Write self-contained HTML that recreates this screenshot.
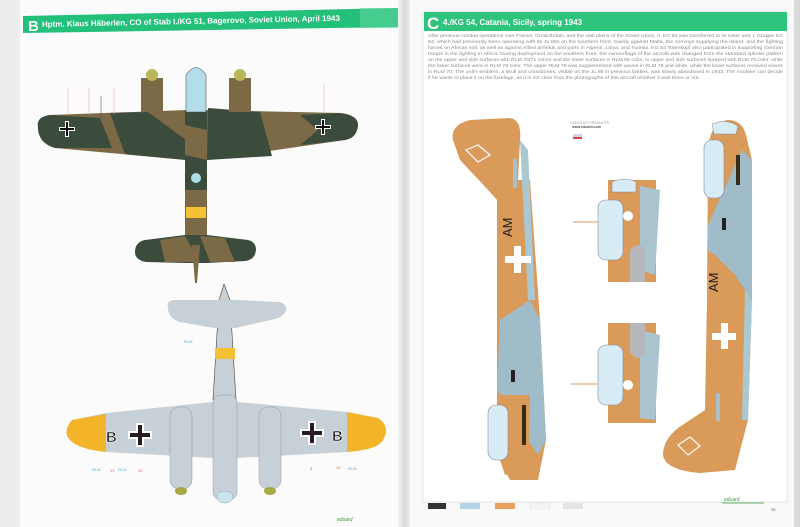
<!DOCTYPE html>
<html><head><meta charset="utf-8"><style>
html,body{margin:0;padding:0;width:800px;height:527px;overflow:hidden;background:#e9eaea}
svg{display:block}
text{font-family:"Liberation Sans",sans-serif}
</style></head><body>
<svg width="800" height="527" viewBox="0 0 800 527" xmlns="http://www.w3.org/2000/svg">
<defs>
<linearGradient id="gut" x1="0" x2="1"><stop offset="0" stop-color="#f3f3f3"/><stop offset="0.5" stop-color="#d9d9d9"/><stop offset="1" stop-color="#f5f5f5"/></linearGradient>
</defs>
<rect x="0" y="0" width="800" height="527" fill="#ededed"/>
<rect x="20" y="0" width="382" height="527" fill="#fbfbfb"/>
<rect x="398" y="0" width="14" height="527" fill="url(#gut)"/>
<rect x="410" y="0" width="384" height="527" fill="#f9f9f9"/>
<rect x="423" y="12" width="364" height="490" fill="#ffffff" stroke="#e0e6e6" stroke-width="1"/>
<rect x="794" y="0" width="6" height="527" fill="#d9dada"/>

<polygon points="23,16 398,8 398,27 23,33" fill="#23c07c"/>
<rect x="360" y="8" width="38" height="20" fill="#5fd39c" opacity="0.6"/>
<text x="28" y="31" font-size="15" font-weight="bold" fill="#fff">B</text>
<text x="42" y="27" font-size="8" font-weight="bold" fill="#fff" transform="rotate(-1.2 42 27)">Hptm. Klaus Häberlen, CO of Stab I./KG 51, Bagerovo, Soviet Union, April 1943</text>

<rect x="424" y="12" width="363" height="19" fill="#2ec47e"/>
<text x="427" y="29" font-size="17" font-weight="bold" fill="#fff">C</text>
<text x="443" y="25" font-size="8" font-weight="bold" fill="#fff">4./KG 54, Catania, Sicily, spring 1943</text>
<g font-size="4.6" fill="#8a8a8a">
<text x="428" y="37" textLength="355" lengthAdjust="spacingAndGlyphs">After previous combat operations over France, Great Britain, and the vast plains of the Soviet Union, II. KG 54 was transferred to its sister unit, I. Gruppe KG</text>
<text x="428" y="43" textLength="355" lengthAdjust="spacingAndGlyphs">54, which had previously been operating with its Ju 88s on the southern front, mainly against Malta, the convoys supplying the island, and the fighting</text>
<text x="428" y="49" textLength="355" lengthAdjust="spacingAndGlyphs">forces on African soil, as well as against Allied airfields and ports in Algeria, Libya, and Tunisia. KG 54 Totenkopf also participated in supporting German</text>
<text x="428" y="55" textLength="355" lengthAdjust="spacingAndGlyphs">troops in the fighting in Africa. During deployment on the southern front, the camouflage of the aircraft was changed from the standard splinter pattern</text>
<text x="428" y="61" textLength="355" lengthAdjust="spacingAndGlyphs">on the upper and side surfaces with RLM 70/71 colors and the lower surfaces in RLM 65 color, to upper and side surfaces sprayed with RLM 79 color, while</text>
<text x="428" y="67" textLength="355" lengthAdjust="spacingAndGlyphs">the lower surfaces were in RLM 78 color. The upper RLM 79 was supplemented with waves in RLM 78 and white, while the lower surfaces received waves</text>
<text x="428" y="73" textLength="355" lengthAdjust="spacingAndGlyphs">in RLM 70. The unit's emblem, a skull and crossbones, visible on the Ju 88 in previous battles, was slowly abandoned in 1943. The modeler can decide</text>
<text x="428" y="79" textLength="272" lengthAdjust="spacingAndGlyphs">if he wants to place it on the fuselage, as it is not clear from the photographs of this aircraft whether it was there or not.</text>
</g>

<g>
<path d="M38,127 Q36,117 50,115 L188,110 L204,110 L340,113 Q358,115 358,125 Q357,138 345,140 L207,160 L186,160 L55,148 Q38,143 38,127 Z" fill="#7b6a45"/>
<path d="M38,127 Q36,117 50,115 L100,118 L112,148 L55,148 Q38,143 38,127Z" fill="#3b4b3c"/>
<path d="M110,113 L148,112 L186,140 L186,160 L125,154 Z" fill="#3b4b3c"/>
<path d="M208,108 L260,112 L272,156 L207,160 Z" fill="#3b4b3c"/>
<path d="M300,115 L340,113 Q358,115 358,125 Q357,138 345,140 L300,145 L318,130 Z" fill="#3b4b3c"/>
<rect x="185" y="110" width="22" height="135" fill="#3b4b3c"/>
<polygon points="185,125 207,130 207,160 185,155" fill="#7b6a45"/>
<rect x="185" y="190" width="22" height="50" fill="#7b6a45"/>
<rect x="186" y="207" width="20" height="11" fill="#f3c132"/>
<circle cx="196" cy="178" r="5" fill="#aee0ea"/>
<rect x="141" y="78" width="22" height="34" fill="#7b6a45"/>
<rect x="229" y="78" width="22" height="34" fill="#7b6a45"/>
<ellipse cx="152" cy="75" rx="6" ry="6" fill="#b8b658"/>
<ellipse cx="240" cy="75" rx="6" ry="6" fill="#b8b658"/>
<path d="M186,112 L186,75 Q196,60 206,75 L206,112 Z" fill="#b3dde8" stroke="#556" stroke-width="0.6"/>
<path d="M135,252 Q135,242 145,240 L185,235 L207,235 L248,240 Q256,242 256,250 Q255,260 245,261 L207,263 L186,263 L146,262 Q135,260 135,252Z" fill="#3b4b3c"/>
<polygon points="160,240 185,236 200,262 165,262" fill="#7b6a45"/>
<polygon points="200,236 225,238 235,262 210,262" fill="#7b6a45"/>
<polygon points="192,245 200,245 197,283 195,283" fill="#7b6a45"/>
<g fill="#fff"><rect x="59" y="127" width="16" height="4"/><rect x="65" y="121" width="4" height="16"/><rect x="315" y="125" width="16" height="4"/><rect x="321" y="119" width="4" height="16"/></g>
<g fill="#111"><rect x="60" y="128" width="14" height="2"/><rect x="66" y="122" width="2" height="14"/><rect x="316" y="126" width="14" height="2"/><rect x="322" y="120" width="2" height="14"/></g>
<g stroke="#e8a0a0" stroke-width="0.5"><line x1="68" y1="88" x2="68" y2="115"/><line x1="324" y1="85" x2="324" y2="112"/><line x1="89" y1="88" x2="89" y2="115"/><line x1="114" y1="88" x2="114" y2="115"/></g>
<line x1="101" y1="96" x2="101" y2="115" stroke="#555" stroke-width="0.6"/>
</g>

<g>
<path d="M224,284 L230,300 L236,400 L213,400 L219,300 Z" fill="#c6d0d6" stroke="#444" stroke-width="0.6"/>
<path d="M168,308 Q166,300 175,300 L214,300 L236,300 L278,302 Q287,303 286,310 Q284,318 270,320 L236,328 L214,328 L180,322 Q168,318 168,308Z" fill="#c6d0d6"/>
<rect x="215" y="348" width="20" height="11" fill="#f3c132"/>
<path d="M70,440 Q62,432 72,420 L106,413 L213,402 L237,402 L347,412 L378,418 Q390,426 384,438 Q380,450 347,452 L237,458 L213,458 L106,452 Q78,449 70,440Z" fill="#c6d0d6"/>
<path d="M70,440 Q62,432 72,420 L106,414 L106,452 Q78,449 70,440Z" fill="#f4b42a"/>
<path d="M347,412 L378,418 Q390,426 384,438 Q380,450 347,452 Z" fill="#f4b42a"/>
<rect x="213" y="395" width="24" height="105" rx="8" fill="#c6d0d6" stroke="#889" stroke-width="0.4"/>
<rect x="170" y="407" width="22" height="82" rx="9" fill="#c6d0d6" stroke="#889" stroke-width="0.4"/>
<rect x="259" y="407" width="22" height="82" rx="9" fill="#c6d0d6" stroke="#889" stroke-width="0.4"/>
<ellipse cx="181" cy="491" rx="6" ry="4" fill="#a8a845"/>
<ellipse cx="270" cy="491" rx="6" ry="4" fill="#a8a845"/>
<ellipse cx="225" cy="497" rx="8" ry="6" fill="#cce4ee" stroke="#7ab" stroke-width="0.5"/>
<g fill="#fff"><rect x="128" y="431" width="24" height="8"/><rect x="136" y="423" width="8" height="24"/><rect x="300" y="429" width="24" height="8"/><rect x="308" y="421" width="8" height="24"/></g>
<g fill="#261c22"><rect x="130" y="433" width="20" height="4"/><rect x="138" y="425" width="4" height="20"/><rect x="302" y="431" width="20" height="4"/><rect x="310" y="423" width="4" height="20"/></g>
<text x="106" y="442" font-size="15" font-weight="bold" fill="#111" stroke="#fff" stroke-width="0.6">B</text>
<text x="332" y="441" font-size="15" font-weight="bold" fill="#111" stroke="#fff" stroke-width="0.6">B</text>
<g font-size="4" fill="#e06060"><text x="110" y="472">13</text><text x="138" y="472">10</text><text x="310" y="470">9</text><text x="336" y="469">13</text></g>
<g font-size="4" fill="#5ab0e0"><text x="92" y="471">RLM</text><text x="118" y="471">RLM</text><text x="348" y="470">RLM</text><text x="184" y="343">RLM</text></g>
<text x="337" y="521" font-size="5" fill="#3a9a3a" font-style="italic">eduard</text>
</g>

<g>
<path d="M453,140 Q450,125 470,120 L510,118 Q522,120 520,140 L518,180 L530,180 L540,320 L546,440 L538,480 L510,480 L497,455 L497,200 L490,192 L460,160 Z" fill="#d99a5a"/>
<path d="M520,140 L528,150 L535,300 L528,300 Z" fill="#aac8d2"/>
<path d="M500,320 Q515,310 530,300 L540,320 L546,440 L538,455 L515,420 L497,390 Z" fill="#9fbcc8"/>
<path d="M500,395 L530,395 L528,470 L505,475 L497,450 Z" fill="#d99a5a"/>
<rect x="488" y="405" width="20" height="55" rx="8" fill="#d7ecf4" stroke="#889" stroke-width="0.6"/>
<rect x="522" y="405" width="4" height="40" fill="#3a2a1a"/>
<rect x="511" y="370" width="4" height="12" fill="#222"/>
<text x="512" y="237" font-size="13" fill="#1d1d1d" transform="rotate(-90 512 237)">AM</text>
<g fill="#fff"><rect x="505" y="256" width="26" height="7"/><rect x="514" y="246" width="7" height="27"/></g>
<path d="M466,150 L478,145 L490,155 L478,162 Z" fill="none" stroke="#fff" stroke-width="1.2"/>
<rect x="513" y="158" width="4" height="30" rx="2" fill="#a8c0cc"/>
</g>

<g>
<path d="M708,150 Q710,122 728,120 Q742,120 746,135 L752,160 L752,300 L748,420 L735,470 L700,473 Q665,470 663,455 Q663,440 678,428 L705,410 L707,300 Z" fill="#d99a5a"/>
<path d="M708,225 L742,150 L752,160 L752,300 L745,290 L735,275 L715,255 L707,250 Z" fill="#9fbcc8"/>
<path d="M745,290 L752,300 L748,420 L742,420 Z" fill="#aac8d2"/>
<rect x="704" y="140" width="20" height="58" rx="8" fill="#d7ecf4" stroke="#889" stroke-width="0.6"/>
<path d="M712,124 Q726,118 738,126 L736,134 L714,134Z" fill="#d7ecf4" stroke="#889" stroke-width="0.5"/>
<rect x="736" y="155" width="4" height="30" fill="#3a2a1a"/>
<rect x="722" y="218" width="4" height="12" fill="#222"/>
<text x="718" y="292" font-size="13" fill="#1d1d1d" transform="rotate(-90 718 292)">AM</text>
<g fill="#fff"><rect x="712" y="333" width="24" height="7"/><rect x="721" y="323" width="7" height="26"/></g>
<path d="M678,445 L690,437 L700,446 L688,455 Z" fill="none" stroke="#fff" stroke-width="1.2"/>
<rect x="716" y="393" width="4" height="28" rx="2" fill="#a8c0cc"/>
</g>

<g>
<rect x="608" y="180" width="48" height="102" fill="#d99a5a"/>
<path d="M640,186 L660,190 L655,275 L640,270Z" fill="#a9c4cf"/>
<rect x="598" y="200" width="25" height="60" rx="8" fill="#d7ecf4" stroke="#889" stroke-width="0.6"/>
<path d="M612,182 Q625,176 636,182 L636,192 L612,192Z" fill="#d7ecf4" stroke="#889" stroke-width="0.5"/>
<path d="M630,250 Q640,240 645,250 L645,282 L630,282Z" fill="#b7b7bb"/>
<circle cx="628" cy="216" r="5" fill="#fff"/>
<line x1="573" y1="222" x2="598" y2="222" stroke="#d99a5a" stroke-width="1"/>
<rect x="608" y="323" width="48" height="100" fill="#d99a5a"/>
<path d="M640,330 L660,335 L655,420 L640,418Z" fill="#a9c4cf"/>
<rect x="598" y="345" width="25" height="60" rx="8" fill="#d7ecf4" stroke="#889" stroke-width="0.6"/>
<path d="M630,323 L645,323 L645,355 Q637,362 630,352Z" fill="#b7b7bb"/>
<circle cx="628" cy="385" r="5" fill="#fff"/>
<line x1="571" y1="384" x2="598" y2="384" stroke="#d99a5a" stroke-width="1"/>
</g>

<g font-size="3.5" fill="#999"><text x="570" y="124">CZECH KIT PRODUCTS</text><text x="572" y="128" fill="#555" font-weight="bold">www.eduard.com</text></g>
<rect x="573" y="134" width="9" height="5" fill="#d0d8f0"/><rect x="573" y="137" width="9" height="2" fill="#e04040"/>

<rect x="428" y="503" width="18" height="6" fill="#333"/>
<rect x="460" y="503" width="20" height="6" fill="#b3d3e6"/>
<rect x="495" y="503" width="20" height="6" fill="#e9a05a"/>
<rect x="530" y="503" width="20" height="6" fill="#f4f4f4" stroke="#ddd" stroke-width="0.4"/>
<rect x="563" y="503" width="20" height="6" fill="#e4e4e4"/>
<text x="724" y="501" font-size="5" fill="#3a9a3a" font-style="italic">eduard</text>
<line x1="722" y1="503" x2="764" y2="503" stroke="#3a9a3a" stroke-width="0.8"/>
<text x="771" y="511" font-size="4" fill="#555">29</text>
</svg>
</body></html>
